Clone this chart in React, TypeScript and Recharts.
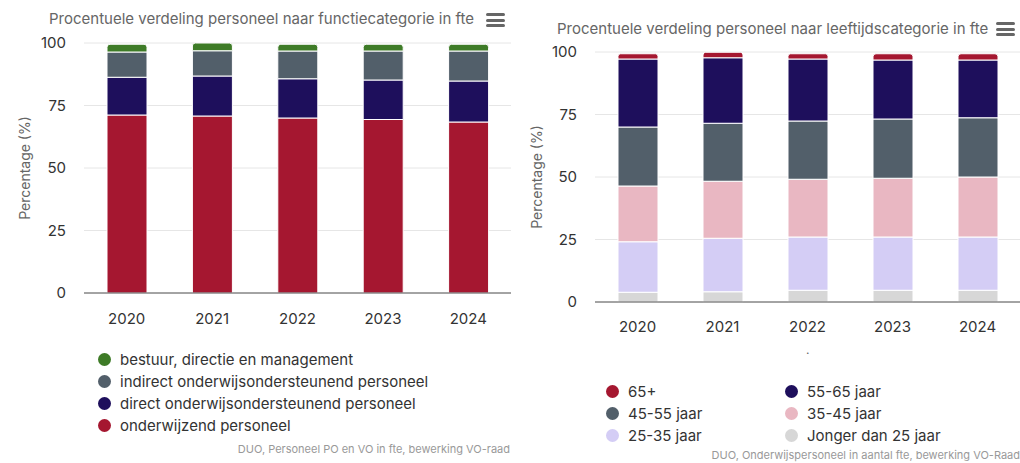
import { Bar, BarChart, CartesianGrid, XAxis, YAxis } from 'recharts';

const FONT = 'Inter, "Noto Sans", sans-serif';

const years = ['2020', '2021', '2022', '2023', '2024'];
const yTicks = [0, 25, 50, 75, 100];

// functiecategorie (bottom -> top)
const onderwijzend = [71.2, 70.8, 70.0, 69.4, 68.4];
const directOop = [15.1, 16.0, 15.7, 15.8, 16.4];
const indirectOop = [10.1, 10.1, 11.1, 11.6, 12.0];
const bestuur = [3.1, 3.1, 2.7, 2.7, 2.7];

// leeftijdscategorie (bottom -> top)
const jonger25 = [3.9, 4.1, 4.7, 4.7, 4.7];
const age25to35 = [20.2, 21.4, 21.3, 21.3, 21.3];
const age35to45 = [22.3, 22.8, 23.1, 23.5, 24.0];
const age45to55 = [23.6, 23.2, 23.3, 23.7, 23.7];
const age55to65 = [27.2, 26.2, 24.8, 23.6, 23.1];
const age65plus = [2.1, 2.2, 2.1, 2.5, 2.5];

const functieSeries = [
  { key: 'onderwijzend', name: 'onderwijzend personeel', color: '#a51730', values: onderwijzend },
  { key: 'direct', name: 'direct onderwijsondersteunend personeel', color: '#1e0f5c', values: directOop },
  { key: 'indirect', name: 'indirect onderwijsondersteunend personeel', color: '#525f6a', values: indirectOop },
  { key: 'bestuur', name: 'bestuur, directie en management', color: '#3e7b27', values: bestuur },
];

const leeftijdSeries = [
  { key: 'j25', name: 'Jonger dan 25 jaar', color: '#d7d7d7', values: jonger25 },
  { key: 'a25', name: '25-35 jaar', color: '#d4cdf5', values: age25to35 },
  { key: 'a35', name: '35-45 jaar', color: '#e9b7c2', values: age35to45 },
  { key: 'a45', name: '45-55 jaar', color: '#525f6a', values: age45to55 },
  { key: 'a55', name: '55-65 jaar', color: '#1e0f5c', values: age55to65 },
  { key: 'a65', name: '65+', color: '#a51730', values: age65plus },
];

type Series = { key: string; name: string; color: string; values: number[] };

function toRows(series: Series[]) {
  return years.map((year, i) => {
    const row: Record<string, string | number> = { year };
    series.forEach((s) => (row[s.key] = s.values[i]));
    return row;
  });
}

function MenuIcon({ left, top }: { left: number; top: number }) {
  return (
    <div style={{ position: 'absolute', left, top, width: 19 }}>
      {[0, 1, 2].map((i) => (
        <div
          key={i}
          style={{ height: 3, background: '#666', borderRadius: 2, marginBottom: 2.5 }}
        />
      ))}
    </div>
  );
}

function Dot({ color }: { color: string }) {
  return (
    <span
      style={{
        display: 'inline-block',
        width: 13,
        height: 13,
        borderRadius: '50%',
        background: color,
        marginRight: 9,
        verticalAlign: -1,
      }}
    />
  );
}

function StackChart({
  series,
  width,
  height,
  top,
  bottom,
  yWidth,
  labelOffset,
  xMargin,
}: {
  series: Series[];
  width: number;
  height: number;
  top: number;
  bottom: number;
  yWidth: number;
  labelOffset: number;
  xMargin: number;
}) {
  const data = toRows(series);
  return (
    <BarChart
      width={width}
      height={height}
      data={data}
      margin={{ top, right: 0, bottom, left: 0 }}
      barCategoryGap={0}
      barSize={40}
    >
      <CartesianGrid vertical={false} stroke="#e6e6e6" />
      <XAxis
        dataKey="year"
        height={30}
        tickLine={false}
        tickSize={0}
        tickMargin={xMargin}
        axisLine={{ stroke: '#555' }}
        tick={{ fill: '#333', fontSize: 15, fontFamily: FONT }}
      />
      <YAxis
        width={yWidth}
        domain={[0, 100]}
        ticks={yTicks}
        axisLine={false}
        tickLine={false}
        tickSize={0}
        tickMargin={18}
        tick={{ fill: '#333', fontSize: 15, fontFamily: FONT }}
        label={{
          value: 'Percentage (%)',
          angle: -90,
          position: 'insideLeft',
          offset: labelOffset,
          style: { textAnchor: 'middle', fill: '#666', fontSize: 14, fontFamily: FONT },
        }}
      />
      {series.map((s, i) => (
        <Bar
          key={s.key}
          dataKey={s.key}
          name={s.name}
          stackId="a"
          fill={s.color}
          stroke="#fff"
          strokeWidth={1}
          radius={i === series.length - 1 ? [3, 3, 0, 0] : 0}
          isAnimationActive={false}
        />
      ))}
    </BarChart>
  );
}

export default function App() {
  const leftLegend = [...functieSeries].reverse();
  const rightLegend = [...leeftijdSeries].reverse();
  return (
    <div
      style={{
        position: 'absolute',
        left: 0,
        top: 0,
        width: 1020,
        height: 463,
        overflow: 'hidden',
        background: '#fff',
        fontFamily: FONT,
      }}
    >
      {/* left chart */}
      <div style={{ position: 'absolute', left: 0, top: 0 }}>
        <StackChart
          series={functieSeries}
          width={511}
          height={330}
          top={43}
          bottom={7}
          yWidth={84}
          labelOffset={25}
          xMargin={20}
        />
      </div>
      <div
        style={{
          position: 'absolute',
          left: 49,
          top: 9,
          fontSize: 15,
          color: '#666',
          whiteSpace: 'nowrap',
        }}
      >
        Procentuele verdeling personeel naar functiecategorie in fte
      </div>
      <MenuIcon left={486} top={13} />
      <div style={{ position: 'absolute', left: 98, top: 350, fontSize: 15, color: '#333' }}>
        {leftLegend.map((s) => (
          <div key={s.key} style={{ height: 22, whiteSpace: 'nowrap' }}>
            <Dot color={s.color} />
            {s.name}
          </div>
        ))}
      </div>
      <div
        style={{
          position: 'absolute',
          right: 510,
          top: 442,
          fontSize: 11,
          color: '#999',
          whiteSpace: 'nowrap',
        }}
      >
        DUO, Personeel PO en VO in fte, bewerking VO-raad
      </div>

      {/* right chart */}
      <div style={{ position: 'absolute', left: 510, top: 0 }}>
        <StackChart
          series={leeftijdSeries}
          width={510}
          height={340}
          top={52}
          bottom={8}
          yWidth={85}
          labelOffset={27}
          xMargin={19}
        />
      </div>
      <div
        style={{
          position: 'absolute',
          left: 557,
          top: 19,
          fontSize: 15,
          color: '#666',
          whiteSpace: 'nowrap',
        }}
      >
        Procentuele verdeling personeel naar leeftijdscategorie in fte
      </div>
      <MenuIcon left={996} top={22} />
      <div style={{ position: 'absolute', left: 806, top: 342, fontSize: 12, color: '#666' }}>.</div>
      <div
        style={{
          position: 'absolute',
          left: 606,
          top: 382,
          width: 400,
          display: 'grid',
          gridTemplateColumns: '179px 200px',
          fontSize: 15,
          color: '#333',
        }}
      >
        {rightLegend.map((s) => (
          <div key={s.key} style={{ height: 22, whiteSpace: 'nowrap' }}>
            <Dot color={s.color} />
            {s.name}
          </div>
        ))}
      </div>
      <div
        style={{
          position: 'absolute',
          right: 0,
          top: 448,
          fontSize: 11,
          color: '#999',
          whiteSpace: 'nowrap',
        }}
      >
        DUO, Onderwijspersoneel in aantal fte, bewerking VO-Raad
      </div>
    </div>
  );
}
